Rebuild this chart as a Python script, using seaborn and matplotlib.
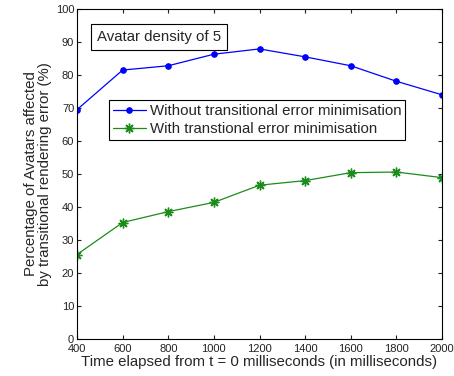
import matplotlib
matplotlib.use("Agg")
import matplotlib.pyplot as plt
import seaborn as sns
import pandas as pd

# data
time_ms = [400, 600, 800, 1000, 1200, 1400, 1600, 1800, 2000]
without_min = [69.5, 81.5, 82.8, 86.3, 87.9, 85.5, 82.8, 78.1, 74.0]
with_min = [25.6, 35.3, 38.6, 41.4, 46.6, 48.0, 50.4, 50.6, 48.9]
x_ticks = [400, 600, 800, 1000, 1200, 1400, 1600, 1800, 2000]
y_ticks = [0, 10, 20, 30, 40, 50, 60, 70, 80, 90, 100]

sns.set_style("ticks")
plt.rcParams["font.family"] = ["Liberation Sans", "DejaVu Sans"]

df = pd.DataFrame({"time": time_ms, "without": without_min, "with": with_min})

fig = plt.figure(figsize=(4.54, 3.76), dpi=100)
ax = fig.add_axes([77 / 454, 1 - 339 / 376, 365 / 454, 330 / 376])

sns.lineplot(data=df, x="time", y="without", ax=ax, color="#0000ff", marker="o",
             markersize=4, markeredgecolor="#0000ff", linewidth=0.9,
             label="Without transitional error minimisation")
sns.lineplot(data=df, x="time", y="with", ax=ax, color="#1a8c1a", marker=(8, 2, 0),
             markersize=7, markeredgecolor="#1a8c1a", markeredgewidth=1.0, linewidth=0.9,
             label="With transtional error minimisation")

ax.set_xlim(400, 2000)
ax.set_ylim(0, 100)
ax.set_xticks(x_ticks)
ax.set_yticks(y_ticks)
ax.tick_params(direction="in", top=True, right=True, labelsize=8, length=3,
               colors="#222222", pad=2)
ax.tick_params(axis="x", pad=3.5)
for s in ax.spines.values():
    s.set_visible(True)
    s.set_linewidth(0.8)
    s.set_color("black")

ax.set_xlabel("Time elapsed from t = 0 milliseconds (in milliseconds)", fontsize=10.8, labelpad=0.5)
ax.set_ylabel("Percentage of Avatars affected\nby transitional rendering error (%)", fontsize=10.8,
              labelpad=3, linespacing=1.0)

leg = ax.legend(loc="upper left", bbox_to_anchor=(0.087, 0.724), fontsize=10.8,
                frameon=True, fancybox=False, edgecolor="black", framealpha=1,
                handlelength=2.2, handletextpad=0.3, borderpad=0.25,
                labelspacing=0.3, borderaxespad=0)
leg.get_frame().set_linewidth(0.8)

ax.text(0.055, 0.914, "Avatar density of 5", transform=ax.transAxes, fontsize=10.8,
        va="center", ha="left",
        bbox=dict(boxstyle="square,pad=0.4", facecolor="white", edgecolor="black", linewidth=0.8))

fig.savefig("out.png", dpi=100)
